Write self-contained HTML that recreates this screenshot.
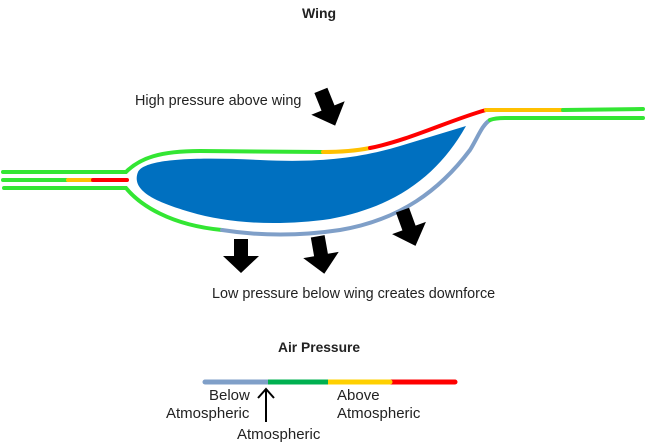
<!DOCTYPE html><html><head><style>body{margin:0;background:#fff}svg{display:block}text{font-family:"Liberation Sans",sans-serif;fill:#222}</style></head><body>
<svg width="646" height="444" viewBox="0 0 646 444">
<text x="302" y="18" font-size="14" font-weight="bold">Wing</text>
<path d="M138,172 C145,158 200,157 260,160 C320,163 360,158 400,146 L466,126 C440,172 400,206 330,219 C280,226 230,224 190,212 C160,203 130,192 138,172 Z" fill="#0070c0"/>
<g fill="none" stroke-width="4" stroke-linecap="round">
<path d="M3,172 L126,172 C140,158 160,151 200,151 L323,152" stroke="#33e633"/>
<path d="M323,152 C340,152 355,151 370,148" stroke="#ffc000"/>
<path d="M370,148 C410,140 450,120 486,110" stroke="#ff0000"/>
<path d="M486,110 L563,110" stroke="#ffc000"/>
<path d="M563,110 L643,109" stroke="#33e633"/>
<path d="M3,180 L68,180" stroke="#33e633"/>
<path d="M68,180 L93,180" stroke="#ffc000"/>
<path d="M93,180 L127,180" stroke="#ff0000"/>
<path d="M4,188 L126,188 C140,205 170,225 222,230" stroke="#33e633"/>
<path d="M222,230 C260,236 300,236 340,230 C400,220 440,190 470,150 C478,137 482,125 490,120" stroke="#7f9fc8"/>
<path d="M490,120 C495,118 500,118 505,118 L643,118" stroke="#33e633"/>
</g>
<g fill="#000">
<polygon transform="translate(328,108) rotate(-22)" points="-7,-19 7,-19 7,0 18,0 0,19 -18,0 -7,0"/>
<polygon transform="translate(241,256)" points="-7,-17 7,-17 7,0 18,0 0,17 -18,0 -7,0"/>
<polygon transform="translate(321,255) rotate(-10)" points="-7,-19 7,-19 7,0 18,0 0,19 -18,0 -7,0"/>
<polygon transform="translate(409,228) rotate(-20)" points="-7,-19 7,-19 7,0 18,0 0,19 -18,0 -7,0"/>
</g>
<text x="135" y="105" font-size="14.4">High pressure above wing</text>
<text x="212" y="298" font-size="14.4">Low pressure below wing creates downforce</text>
<text x="278" y="352" font-size="13.8" font-weight="bold">Air Pressure</text>
<g stroke-width="5" stroke-linecap="round">
<line x1="205" y1="382" x2="268" y2="382" stroke="#7f9fc8"/>
<line x1="390" y1="382" x2="455" y2="382" stroke="#ff0000"/>
<line x1="328" y1="382" x2="390" y2="382" stroke="#ffd000"/>
<line x1="268" y1="382" x2="328" y2="382" stroke="#00b050" stroke-linecap="butt"/>
</g>
<line x1="266" y1="422" x2="266" y2="390" stroke="#000" stroke-width="2"/>
<polyline points="258,398 266,389 274,398" fill="none" stroke="#000" stroke-width="2"/>
<text x="209" y="400" font-size="15">Below</text>
<text x="166" y="418" font-size="15">Atmospheric</text>
<text x="337" y="400" font-size="15">Above</text>
<text x="337" y="418" font-size="15">Atmospheric</text>
<text x="237" y="439" font-size="15">Atmospheric</text>
</svg></body></html>
